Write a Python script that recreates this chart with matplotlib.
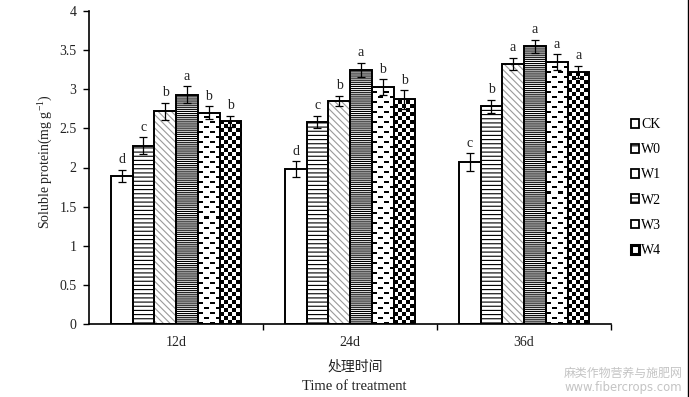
import numpy as np
import matplotlib
matplotlib.use('Agg')
import matplotlib.pyplot as plt
from matplotlib.patches import Rectangle
from matplotlib.lines import Line2D

# ---------------- data ----------------
groups = ['12d', '24d', '36d']
series = ['CK', 'W0', 'W1', 'W2', 'W3', 'W4']

ck = [1.89, 1.98, 2.07]
w0 = [2.28, 2.58, 2.78]
w1 = [2.72, 2.85, 3.32]
w2 = [2.93, 3.25, 3.55]
w3 = [2.70, 3.03, 3.35]
w4 = [2.59, 2.87, 3.22]

ck_err = [0.08, 0.10, 0.11]
w0_err = [0.11, 0.08, 0.085]
w1_err = [0.11, 0.07, 0.08]
w2_err = [0.11, 0.09, 0.085]
w3_err = [0.08, 0.10, 0.10]
w4_err = [0.07, 0.12, 0.08]

ck_sig = ['d', 'd', 'c']
w0_sig = ['c', 'c', 'b']
w1_sig = ['b', 'b', 'a']
w2_sig = ['a', 'a', 'a']
w3_sig = ['b', 'b', 'a']
w4_sig = ['b', 'b', 'a']

yticks = [0, 0.5, 1, 1.5, 2, 2.5, 3, 3.5, 4]
ytick_labels = ['0', '0.5', '1', '1.5', '2', '2.5', '3', '3.5', '4']

values = [ck, w0, w1, w2, w3, w4]
errors = [ck_err, w0_err, w1_err, w2_err, w3_err, w4_err]
sigs = [ck_sig, w0_sig, w1_sig, w2_sig, w3_sig, w4_sig]

# ---------------- style ----------------
plt.rcParams['font.family'] = ['Liberation Serif', 'Noto Sans CJK SC', 'DejaVu Sans']
plt.rcParams['hatch.linewidth'] = 0.8
TXT = '#222222'
FS = 10

W, H = 689, 397
fig = plt.figure(figsize=(W / 100, H / 100), dpi=100)
ax_l, ax_r, ax_t, ax_b = 89, 611, 11, 324
ax = fig.add_axes([ax_l / W, (H - ax_b) / H, (ax_r - ax_l) / W, (ax_b - ax_t) / H])

xlim = (-0.5, 2.5)
ylim = (0, 4)
PXX = (ax_r - ax_l) / (xlim[1] - xlim[0])
PXY = (ax_b - ax_t) / (ylim[1] - ylim[0])

x = np.arange(len(groups))
bw = 0.125

hatches = [None, '----', '\\\\\\\\\\', '--------', 'dash', 'check']
hcolors = ['black', 'black', '#9a9a9a', 'black', None, None]


def texture(kind, hpx, wpx):
    yy, xx = np.mgrid[0:hpx, 0:wpx]
    if kind == 'check':
        arr = ((yy // 4 + xx // 4) % 2 == 0)
    else:
        k = yy // 5
        on_row = (yy % 5) < 2
        arr = on_row & (((xx + 6 * (k % 2)) % 12) < 5)
    return 1.0 - arr.astype(float)


for i, (vals, errs, sg) in enumerate(zip(values, errors, sigs)):
    xpos = x + (i - 2.5) * bw
    hatch = hatches[i]
    if hatch in (None, 'dash', 'check'):
        bars = ax.bar(xpos, vals, bw, color='white', edgecolor='none', linewidth=0, zorder=2)
        if hatch is not None:
            for r in bars:
                x0, y0, wd, ht = r.get_x(), r.get_y(), r.get_width(), r.get_height()
                wpx = max(1, int(round(wd * PXX)))
                hpx = max(1, int(round(ht * PXY)))
                arr = texture(hatch, hpx, wpx)
                im = ax.imshow(arr, cmap='gray', vmin=0, vmax=1,
                               extent=(x0, x0 + wd, y0, y0 + ht), origin='lower',
                               interpolation='nearest', aspect='auto', zorder=2.5)
                im.set_clip_path(r)
    else:
        ax.bar(xpos, vals, bw, color='white', edgecolor=hcolors[i], linewidth=0,
               hatch=hatch, zorder=2)
    ax.bar(xpos, vals, bw, fill=False, edgecolor='black', linewidth=1.4, zorder=3)
    ax.errorbar(xpos, vals, yerr=errs, fmt='none', ecolor='black', elinewidth=0.9,
                capsize=3, capthick=0.9, zorder=4)
    for xp, v, e, s in zip(xpos, vals, errs, sg):
        ax.annotate(s, (xp, v + e), xytext=(0, 2.5), textcoords='offset points',
                    ha='center', va='bottom', fontsize=FS, color=TXT)

ax.set_xlim(*xlim)
ax.set_ylim(*ylim)

ax.spines['top'].set_visible(False)
ax.spines['right'].set_visible(False)
for s in ('left', 'bottom'):
    ax.spines[s].set_linewidth(1.2)
    ax.spines[s].set_color('black')

ax.set_yticks(yticks)
ax.set_yticklabels(ytick_labels)
ax.tick_params(axis='y', direction='out', length=4, width=1, pad=5, labelsize=FS, labelcolor=TXT)

ax.set_xticks([0.5, 1.5, 2.5])
ax.set_xticklabels([])
ax.tick_params(axis='x', which='major', direction='out', length=4, width=1)
ax.set_xticks(x, minor=True)
ax.set_xticklabels(groups, minor=True)
ax.tick_params(axis='x', which='minor', length=0, pad=9, labelsize=FS, labelcolor=TXT)

# axis labels
fig.text(45 / W, 1 - 162 / H, 'Soluble protein(mg g$^{\\mathregular{-1}}$)', rotation=90,
         ha='center', va='center', fontsize=10, color=TXT)
fig.text(355 / W, 1 - 367 / H, '处理时间', ha='center', va='center', fontsize=10,
         color=TXT, family=['Noto Sans CJK SC', 'DejaVu Sans'])
fig.text(354 / W, 1 - 386 / H, 'Time of treatment', ha='center', va='center',
         fontsize=10.5, color=TXT)

# legend
handles = []
for i, name in enumerate(series):
    hatch = hatches[i]
    if hatch == 'check':
        h = Rectangle((0, 0), 1, 1, facecolor='white', edgecolor='black', linewidth=2.2)
    elif hatch == 'dash':
        h = Rectangle((0, 0), 1, 1, facecolor='white', edgecolor='black', linewidth=1.3)
    elif hatch is None or i == 2:
        h = Rectangle((0, 0), 1, 1, facecolor='white', edgecolor='black', linewidth=1.3)
    else:
        h = Rectangle((0, 0), 1, 1, facecolor='white', edgecolor='black', linewidth=1.3,
                      hatch='--' if i == 1 else '----')
    handles.append(h)
fig.legend(handles, series, loc='upper left', bbox_to_anchor=(631 / W, 1 - 118 / H),
           frameon=False, fontsize=FS, handlelength=0.6, handleheight=0.6,
           handletextpad=0.15, labelspacing=0.88, borderaxespad=0, borderpad=0)

# watermark
fig.text(623 / W, 1 - 373 / H, '麻类作物营养与施肥网', ha='center', va='center', fontsize=8.6,
         color='#c4c4c4', family=['Noto Sans CJK SC', 'DejaVu Sans'])
fig.text(623 / W, 1 - 387 / H, 'www.fibercrops.com', ha='center', va='center', fontsize=8.4,
         color='#c4c4c4', family=['DejaVu Sans'])

# right border
fig.add_artist(Line2D([687.5 / W, 687.5 / W], [0, 1], transform=fig.transFigure,
                      color='black', linewidth=1))

fig.savefig('out.png', dpi=100)
